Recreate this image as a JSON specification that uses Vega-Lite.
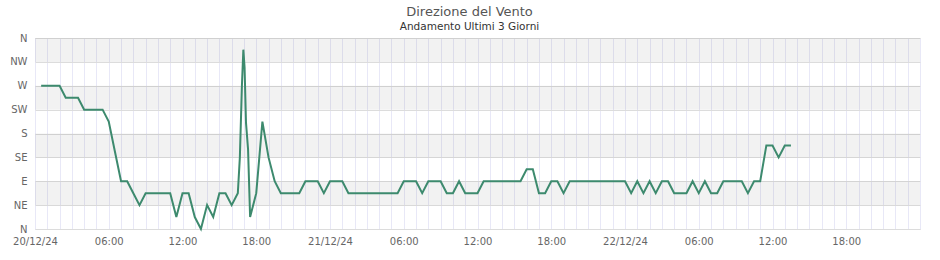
{
  "$schema": "https://vega.github.io/schema/vega-lite/v6.json",
  "width": 885,
  "height": 191,
  "autosize": {"type": "none"},
  "padding": {"left": 35, "top": 38, "right": 20, "bottom": 31},
  "title": {
    "text": "Direzione del Vento",
    "subtitle": "Andamento Ultimi 3 Giorni",
    "anchor": "middle",
    "frame": "group",
    "dx": -8,
    "offset": 1,
    "font": "DejaVu Sans",
    "fontSize": 13,
    "fontWeight": "normal",
    "color": "#555555",
    "subtitleFont": "DejaVu Sans",
    "subtitleFontSize": 10.5,
    "subtitleColor": "#333333",
    "subtitlePadding": 3
  },
  "config": {
    "view": {"stroke": "#dcdcdc"},
    "axis": {"labelFont": "DejaVu Sans", "labelFontSize": 10, "labelColor": "#666666"}
  },
  "data": {
    "values": [
      {"t": "2024-12-20T00:30", "d": 270},
      {"t": "2024-12-20T01:00", "d": 270},
      {"t": "2024-12-20T01:30", "d": 270},
      {"t": "2024-12-20T02:00", "d": 270},
      {"t": "2024-12-20T02:30", "d": 247.5},
      {"t": "2024-12-20T03:00", "d": 247.5},
      {"t": "2024-12-20T03:30", "d": 247.5},
      {"t": "2024-12-20T04:00", "d": 225},
      {"t": "2024-12-20T04:30", "d": 225},
      {"t": "2024-12-20T05:00", "d": 225},
      {"t": "2024-12-20T05:30", "d": 225},
      {"t": "2024-12-20T06:00", "d": 202.5},
      {"t": "2024-12-20T06:30", "d": 146},
      {"t": "2024-12-20T07:00", "d": 90},
      {"t": "2024-12-20T07:30", "d": 90},
      {"t": "2024-12-20T08:00", "d": 67.5},
      {"t": "2024-12-20T08:30", "d": 45},
      {"t": "2024-12-20T09:00", "d": 67.5},
      {"t": "2024-12-20T09:30", "d": 67.5},
      {"t": "2024-12-20T10:00", "d": 67.5},
      {"t": "2024-12-20T10:30", "d": 67.5},
      {"t": "2024-12-20T11:00", "d": 67.5},
      {"t": "2024-12-20T11:30", "d": 22.5},
      {"t": "2024-12-20T12:00", "d": 67.5},
      {"t": "2024-12-20T12:30", "d": 67.5},
      {"t": "2024-12-20T13:00", "d": 22.5},
      {"t": "2024-12-20T13:30", "d": 0},
      {"t": "2024-12-20T14:00", "d": 45},
      {"t": "2024-12-20T14:30", "d": 22.5},
      {"t": "2024-12-20T15:00", "d": 67.5},
      {"t": "2024-12-20T15:30", "d": 67.5},
      {"t": "2024-12-20T16:00", "d": 45},
      {"t": "2024-12-20T16:30", "d": 67.5},
      {"t": "2024-12-20T16:40", "d": 135},
      {"t": "2024-12-20T16:50", "d": 270},
      {"t": "2024-12-20T16:57", "d": 338},
      {"t": "2024-12-20T17:03", "d": 305},
      {"t": "2024-12-20T17:10", "d": 200},
      {"t": "2024-12-20T17:20", "d": 150},
      {"t": "2024-12-20T17:30", "d": 22.5},
      {"t": "2024-12-20T18:00", "d": 67.5},
      {"t": "2024-12-20T18:30", "d": 202.5},
      {"t": "2024-12-20T19:00", "d": 135},
      {"t": "2024-12-20T19:30", "d": 90},
      {"t": "2024-12-20T20:00", "d": 67.5},
      {"t": "2024-12-20T20:30", "d": 67.5},
      {"t": "2024-12-20T21:00", "d": 67.5},
      {"t": "2024-12-20T21:30", "d": 67.5},
      {"t": "2024-12-20T22:00", "d": 90},
      {"t": "2024-12-20T22:30", "d": 90},
      {"t": "2024-12-20T23:00", "d": 90},
      {"t": "2024-12-20T23:30", "d": 67.5},
      {"t": "2024-12-21T00:00", "d": 90},
      {"t": "2024-12-21T00:30", "d": 90},
      {"t": "2024-12-21T01:00", "d": 90},
      {"t": "2024-12-21T01:30", "d": 67.5},
      {"t": "2024-12-21T02:00", "d": 67.5},
      {"t": "2024-12-21T02:30", "d": 67.5},
      {"t": "2024-12-21T03:00", "d": 67.5},
      {"t": "2024-12-21T03:30", "d": 67.5},
      {"t": "2024-12-21T04:00", "d": 67.5},
      {"t": "2024-12-21T04:30", "d": 67.5},
      {"t": "2024-12-21T05:00", "d": 67.5},
      {"t": "2024-12-21T05:30", "d": 67.5},
      {"t": "2024-12-21T06:00", "d": 90},
      {"t": "2024-12-21T06:30", "d": 90},
      {"t": "2024-12-21T07:00", "d": 90},
      {"t": "2024-12-21T07:30", "d": 67.5},
      {"t": "2024-12-21T08:00", "d": 90},
      {"t": "2024-12-21T08:30", "d": 90},
      {"t": "2024-12-21T09:00", "d": 90},
      {"t": "2024-12-21T09:30", "d": 67.5},
      {"t": "2024-12-21T10:00", "d": 67.5},
      {"t": "2024-12-21T10:30", "d": 90},
      {"t": "2024-12-21T11:00", "d": 67.5},
      {"t": "2024-12-21T11:30", "d": 67.5},
      {"t": "2024-12-21T12:00", "d": 67.5},
      {"t": "2024-12-21T12:30", "d": 90},
      {"t": "2024-12-21T13:00", "d": 90},
      {"t": "2024-12-21T13:30", "d": 90},
      {"t": "2024-12-21T14:00", "d": 90},
      {"t": "2024-12-21T14:30", "d": 90},
      {"t": "2024-12-21T15:00", "d": 90},
      {"t": "2024-12-21T15:30", "d": 90},
      {"t": "2024-12-21T16:00", "d": 112.5},
      {"t": "2024-12-21T16:30", "d": 112.5},
      {"t": "2024-12-21T17:00", "d": 67.5},
      {"t": "2024-12-21T17:30", "d": 67.5},
      {"t": "2024-12-21T18:00", "d": 90},
      {"t": "2024-12-21T18:30", "d": 90},
      {"t": "2024-12-21T19:00", "d": 67.5},
      {"t": "2024-12-21T19:30", "d": 90},
      {"t": "2024-12-21T20:00", "d": 90},
      {"t": "2024-12-21T20:30", "d": 90},
      {"t": "2024-12-21T21:00", "d": 90},
      {"t": "2024-12-21T21:30", "d": 90},
      {"t": "2024-12-21T22:00", "d": 90},
      {"t": "2024-12-21T22:30", "d": 90},
      {"t": "2024-12-21T23:00", "d": 90},
      {"t": "2024-12-21T23:30", "d": 90},
      {"t": "2024-12-22T00:00", "d": 90},
      {"t": "2024-12-22T00:30", "d": 67.5},
      {"t": "2024-12-22T01:00", "d": 90},
      {"t": "2024-12-22T01:30", "d": 67.5},
      {"t": "2024-12-22T02:00", "d": 90},
      {"t": "2024-12-22T02:30", "d": 67.5},
      {"t": "2024-12-22T03:00", "d": 90},
      {"t": "2024-12-22T03:30", "d": 90},
      {"t": "2024-12-22T04:00", "d": 67.5},
      {"t": "2024-12-22T04:30", "d": 67.5},
      {"t": "2024-12-22T05:00", "d": 67.5},
      {"t": "2024-12-22T05:30", "d": 90},
      {"t": "2024-12-22T06:00", "d": 67.5},
      {"t": "2024-12-22T06:30", "d": 90},
      {"t": "2024-12-22T07:00", "d": 67.5},
      {"t": "2024-12-22T07:30", "d": 67.5},
      {"t": "2024-12-22T08:00", "d": 90},
      {"t": "2024-12-22T08:30", "d": 90},
      {"t": "2024-12-22T09:00", "d": 90},
      {"t": "2024-12-22T09:30", "d": 90},
      {"t": "2024-12-22T10:00", "d": 67.5},
      {"t": "2024-12-22T10:30", "d": 90},
      {"t": "2024-12-22T11:00", "d": 90},
      {"t": "2024-12-22T11:30", "d": 157.5},
      {"t": "2024-12-22T12:00", "d": 157.5},
      {"t": "2024-12-22T12:30", "d": 135},
      {"t": "2024-12-22T13:00", "d": 157.5},
      {"t": "2024-12-22T13:30", "d": 157.5}
    ]
  },
  "layer": [
    {
      "data": {"values": [{"lo": 45, "hi": 90}, {"lo": 135, "hi": 180}, {"lo": 225, "hi": 270}, {"lo": 315, "hi": 360}]},
      "mark": {"type": "rect", "color": "#000000", "opacity": 0.05},
      "encoding": {
        "y": {
          "field": "lo",
          "type": "quantitative",
          "scale": {"domain": [0, 360], "nice": false},
          "axis": {
            "title": null,
            "values": [0, 45, 90, 135, 180, 225, 270, 315, 360],
            "labelExpr": "datum.value == 45 ? 'NE' : datum.value == 90 ? 'E' : datum.value == 135 ? 'SE' : datum.value == 180 ? 'S' : datum.value == 225 ? 'SW' : datum.value == 270 ? 'W' : datum.value == 315 ? 'NW' : 'N'",
            "ticks": false,
            "domain": false,
            "grid": true,
            "gridColor": "#dcdcdc",
            "labelPadding": 8
          }
        },
        "y2": {"field": "hi"}
      }
    },
    {
      "mark": {"type": "line", "color": "#3d8a6e", "strokeWidth": 2, "interpolate": "linear"},
      "encoding": {
        "x": {
          "field": "t",
          "type": "temporal",
          "scale": {"domain": [{"year": 2024, "month": 12, "date": 20}, {"year": 2024, "month": 12, "date": 23}]},
          "axis": {
            "title": null,
            "tickCount": 72,
            "labelExpr": "(hours(datum.value) % 6 != 0 || date(datum.value) == 23) ? '' : (hours(datum.value) == 0 ? timeFormat(datum.value, '%d/%m/%y') : timeFormat(datum.value, '%H:%M'))",
            "labelOverlap": false,
            "labelFlush": false,
            "ticks": false,
            "domain": false,
            "grid": true,
            "gridColor": "#e8e8f7",
            "gridWidth": 1,
            "labelPadding": 7
          }
        },
        "y": {
          "field": "d",
          "type": "quantitative",
          "scale": {"domain": [0, 360], "nice": false},
          "axis": {
            "title": null,
            "values": [0, 45, 90, 135, 180, 225, 270, 315, 360],
            "labelExpr": "datum.value == 45 ? 'NE' : datum.value == 90 ? 'E' : datum.value == 135 ? 'SE' : datum.value == 180 ? 'S' : datum.value == 225 ? 'SW' : datum.value == 270 ? 'W' : datum.value == 315 ? 'NW' : 'N'",
            "ticks": false,
            "domain": false,
            "grid": true,
            "gridColor": "#dcdcdc",
            "labelPadding": 8
          }
        }
      }
    }
  ]
}
